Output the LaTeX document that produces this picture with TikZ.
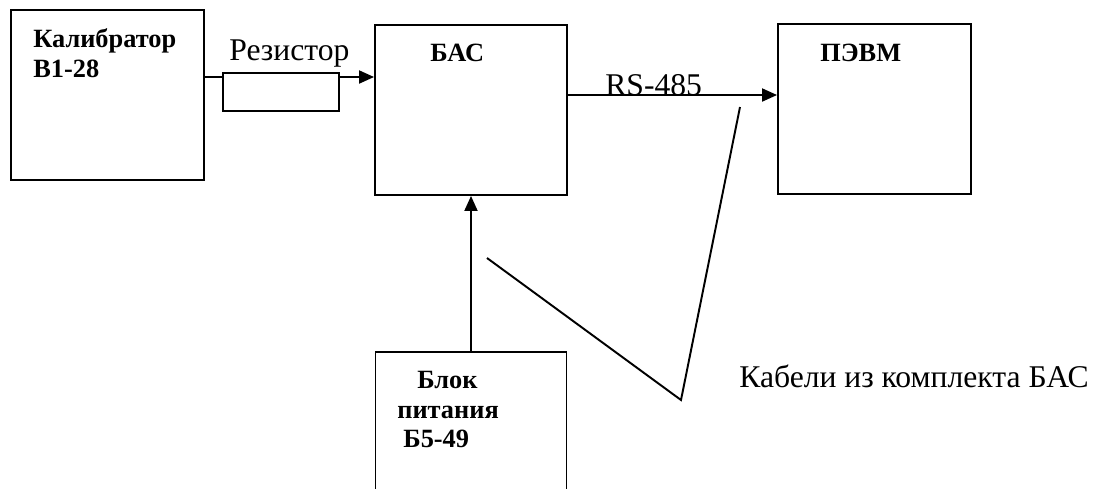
\documentclass[tikz,border=0pt]{standalone}
\usepackage{fontspec}
\setmainfont{Liberation Serif}
\usetikzlibrary{arrows.meta}

\tikzset{
  blok/.style={draw, line width=1.1pt, minimum width=3.84cm, minimum height=3.4cm},
  fleche/.style={line width=1.1pt, -{Triangle[length=0.3cm, width=0.26cm]}},
  titre/.style={font=\fontsize{15}{17}\selectfont\bfseries, anchor=base west, inner sep=0pt},
  texte/.style={font=\fontsize{18}{21}\selectfont, anchor=base west, inner sep=0pt}
}

\begin{document}
\begin{tikzpicture}[x=0.02cm, y=-0.02cm]

\useasboundingbox (0,0) rectangle (1103,488);

% Calibrateur
\node[blok, minimum width=3.86cm] (kal) at (107.5,95) {};
\node[titre] (kal1) at (33,47) {Калибратор};
\node[titre] (kal2) at (33,77) {В1-28};

% Resistance
\node[draw, line width=1.1pt, minimum width=2.32cm, minimum height=0.76cm] (res) at (281,92) {};
\node[texte] (reslbl) at (229,60) {Резистор};

% BAS
\node[blok] (bas) at (471,110) {};
\node[titre] (baslbl) at (430,61) {БАС};

% PEVM
\node[blok, minimum width=3.86cm] (pevm) at (874.5,109) {};
\node[titre] (pevmlbl) at (820,61) {ПЭВМ};

% Bloc d'alimentation (coupe en bas)
\node[blok, minimum width=3.82cm] (pit) at (471,437) {};
\node[titre] (pit1) at (417,388) {Блок};
\node[titre] (pit2) at (397,418) {питания};
\node[titre] (pit3) at (403,447) {Б5-49};

% Liaisons
\coordinate (fil) at (0,77);
\draw[line width=1.1pt] (kal.east |- fil) -- (res.west |- fil);
\draw[fleche] (res.east |- fil) -- (bas.west |- fil);

\coordinate (bus) at (0,95);
\draw[fleche] (bas.east |- bus) -- (pevm.west |- bus);
\node[texte] (rslbl) at (605,95) {RS-485};

\draw[fleche] (pit.north) -- (bas.south);

% Cables
\coordinate (c1) at (487,258);
\coordinate (c2) at (681,400);
\coordinate (c3) at (740,107);
\draw[line width=1.1pt] (c1) -- (c2) -- (c3);
\node[texte] (cablbl) at (739,387) {Кабели из комплекта БАС};

\end{tikzpicture}
\end{document}
